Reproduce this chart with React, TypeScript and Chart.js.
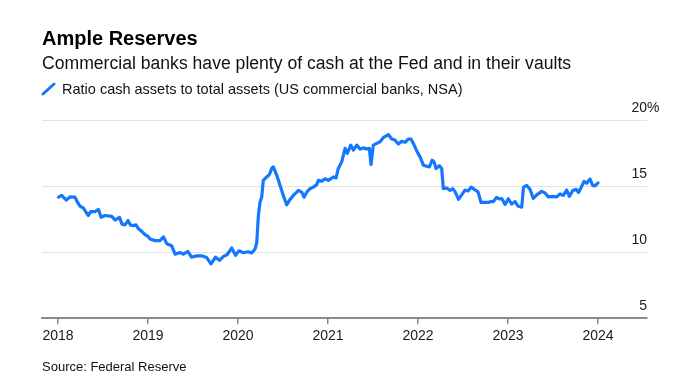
import React, { useEffect, useRef } from "react";
import { Chart, registerables } from "chart.js";

Chart.register(...registerables);

// Weekly ratio readings (decimal year, percent)
const dates = [
  2018.006, 2018.041, 2018.092, 2018.133, 2018.189, 2018.217, 2018.244, 2018.281, 2018.311, 2018.337,
  2018.363, 2018.411, 2018.45, 2018.478, 2018.522, 2018.597, 2018.633, 2018.683, 2018.711, 2018.744,
  2018.778, 2018.806, 2018.837, 2018.867, 2018.892, 2018.93, 2018.967, 2019.003, 2019.022, 2019.078,
  2019.133, 2019.172, 2019.208, 2019.263, 2019.3, 2019.356, 2019.392, 2019.444, 2019.483, 2019.541,
  2019.597, 2019.652, 2019.7, 2019.75, 2019.794, 2019.839, 2019.878, 2019.93, 2019.972, 2020.011,
  2020.059, 2020.114, 2020.152, 2020.189, 2020.208, 2020.226, 2020.244, 2020.263, 2020.281, 2020.319,
  2020.348, 2020.374, 2020.392, 2020.43, 2020.467, 2020.503, 2020.541, 2020.578, 2020.614, 2020.652,
  2020.67, 2020.708, 2020.733, 2020.763, 2020.8, 2020.837, 2020.874, 2020.892, 2020.93, 2020.967,
  2021.003, 2021.059, 2021.089, 2021.114, 2021.152, 2021.189, 2021.214, 2021.252, 2021.281, 2021.319,
  2021.356, 2021.392, 2021.43, 2021.459, 2021.478, 2021.503, 2021.541, 2021.578, 2021.614, 2021.67,
  2021.708, 2021.744, 2021.781, 2021.819, 2021.856, 2021.892, 2021.922, 2021.948, 2021.986, 2022.022,
  2022.059, 2022.097, 2022.126, 2022.158, 2022.178, 2022.2, 2022.237, 2022.263, 2022.281, 2022.319,
  2022.356, 2022.386, 2022.411, 2022.45, 2022.489, 2022.522, 2022.556, 2022.591, 2022.633, 2022.667,
  2022.7, 2022.744, 2022.781, 2022.808, 2022.837, 2022.872, 2022.903, 2022.93, 2022.967, 2023.003,
  2023.041, 2023.078, 2023.111, 2023.152, 2023.172, 2023.208, 2023.244, 2023.281, 2023.319, 2023.374,
  2023.411, 2023.448, 2023.503, 2023.541, 2023.578, 2023.614, 2023.652, 2023.681, 2023.719, 2023.756,
  2023.783, 2023.819, 2023.844, 2023.874, 2023.911, 2023.941, 2023.967, 2024.0,
];

const ratio = [
  14.16, 14.29, 13.94, 14.18, 14.16, 13.76, 13.48, 13.34, 13.02, 12.77,
  13.07, 13.07, 13.23, 12.64, 12.77, 12.71, 12.43, 12.63, 12.12, 12.06,
  12.39, 12.04, 12.01, 12.06, 11.78, 11.57, 11.32, 11.17, 10.99, 10.87,
  10.87, 11.15, 10.64, 10.48, 9.85, 9.97, 9.85, 10.05, 9.62, 9.72,
  9.72, 9.59, 9.11, 9.62, 9.38, 9.68, 9.8, 10.31, 9.76, 10.1,
  9.95, 10.03, 9.93, 10.23, 10.73, 12.77, 13.78, 14.16, 15.43, 15.69,
  15.87, 16.33, 16.45, 15.81, 15.05, 14.29, 13.58, 13.99, 14.29, 14.54,
  14.67, 14.54, 14.16, 14.54, 14.8, 14.92, 15.11, 15.43, 15.36, 15.56,
  15.43, 15.69, 15.61, 16.33, 16.83, 17.85, 17.47, 18.1, 17.72, 18.1,
  17.8, 17.89, 17.8, 17.85, 16.63, 18.1, 18.23, 18.35, 18.66, 18.9,
  18.56, 18.48, 18.18, 18.39, 18.31, 18.56, 18.56, 18.23, 17.66, 17.21,
  16.58, 16.5, 16.45, 16.96, 16.83, 16.33, 16.54, 16.33, 14.8, 14.85,
  14.67, 14.8, 14.58, 13.99, 14.37, 14.7, 14.63, 14.92, 14.71, 14.56,
  13.76, 13.76, 13.76, 13.83, 13.83, 14.14, 14.03, 14.06, 13.61, 14.04,
  13.64, 13.83, 13.49, 13.4, 14.92, 15.05, 14.75, 14.06, 14.33, 14.6,
  14.48, 14.18, 14.22, 14.18, 14.41, 14.29, 14.7, 14.22, 14.67, 14.75,
  14.52, 14.98, 15.36, 15.21, 15.53, 15.05, 15.02, 15.24,
];

const yearTicks = [2018, 2019, 2020, 2021, 2022, 2023, 2024];
const yTicks = [5, 10, 15, 20];

const FONT = '"Liberation Sans", Arial, Helvetica, sans-serif';
const BLUE = "#1478ff";

const yLabelPlugin = {
  id: "yLabels",
  afterDraw(chart: any) {
    const ys = chart.scales.y;
    const ctx = chart.ctx;
    const right = chart.chartArea.right;
    ctx.save();
    ctx.font = `14px ${FONT}`;
    ctx.fillStyle = "#1a1a1a";
    ctx.textBaseline = "alphabetic";
    yTicks.forEach((v, i) => {
      const py = ys.getPixelForValue(v) - 8.5;
      ctx.textAlign = "right";
      ctx.fillText(String(v), right, py);
      if (i === yTicks.length - 1) {
        ctx.textAlign = "left";
        ctx.fillText("%", right, py);
      }
    });
    ctx.restore();
  },
};

export default function App() {
  const ref = useRef<HTMLCanvasElement | null>(null);

  useEffect(() => {
    if (!ref.current) return;
    const chart = new Chart(ref.current, {
      type: "line",
      data: {
        datasets: [
          {
            label: "Ratio cash assets to total assets (US commercial banks, NSA)",
            data: dates.map((d, i) => ({ x: d, y: ratio[i] })),
            borderColor: BLUE,
            borderWidth: 3.2,
            pointRadius: 0,
            tension: 0,
            borderJoinStyle: "round",
            borderCapStyle: "round",
            fill: false,
          },
        ],
      },
      options: {
        responsive: false,
        animation: false,
        layout: { padding: { left: 42, right: 32, top: 120, bottom: 38 } },
        plugins: {
          legend: { display: false },
          tooltip: { enabled: false },
          title: { display: false },
        },
        scales: {
          x: {
            type: "linear",
            min: 2017.822,
            max: 2024.544,
            afterBuildTicks: (scale: any) => {
              scale.ticks = yearTicks.map((v) => ({ value: v }));
            },
            ticks: {
              callback: (v: any) => String(v),
              font: { family: FONT, size: 14 },
              color: "#1a1a1a",
              padding: 4,
              maxRotation: 0,
              autoSkip: false,
            },
            grid: {
              drawOnChartArea: false,
              drawTicks: true,
              tickLength: 6,
              color: "#8a8a8a",
              lineWidth: 1.5,
            },
            border: { display: true, color: "#8a8a8a", width: 2 },
          },
          y: {
            type: "linear",
            position: "right",
            min: 5,
            max: 20,
            afterBuildTicks: (scale: any) => {
              scale.ticks = yTicks.map((v) => ({ value: v }));
            },
            ticks: { display: false },
            grid: {
              drawTicks: false,
              color: (c: any) => (c.tick && c.tick.value === 5 ? "rgba(0,0,0,0)" : "#e3e3e3"),
              lineWidth: 1,
            },
            border: { display: false },
          },
        },
      },
      plugins: [yLabelPlugin],
    });
    return () => chart.destroy();
  }, []);

  return (
    <div
      style={{
        position: "absolute",
        left: 0,
        top: 0,
        width: 679,
        height: 387,
        overflow: "hidden",
        background: "#ffffff",
        fontFamily: FONT,
        color: "#111",
      }}
    >
      <canvas
        ref={ref}
        width={679}
        height={387}
        style={{ position: "absolute", left: 0, top: 0, width: 679, height: 387 }}
      />
      <div
        style={{
          position: "absolute",
          left: 42,
          top: 28,
          fontSize: 20,
          lineHeight: "20px",
          fontWeight: "bold",
          whiteSpace: "nowrap",
          color: "#000",
        }}
      >
        Ample Reserves
      </div>
      <div
        style={{
          position: "absolute",
          left: 42,
          top: 55,
          fontSize: 17.6,
          lineHeight: "17.6px",
          whiteSpace: "nowrap",
          color: "#111",
        }}
      >
        Commercial banks have plenty of cash at the Fed and in their vaults
      </div>
      <svg
        width={16}
        height={14}
        style={{ position: "absolute", left: 41, top: 82 }}
      >
        <line x1={2} y1={12} x2={13} y2={2} stroke={BLUE} strokeWidth={3} strokeLinecap="round" />
      </svg>
      <div
        style={{
          position: "absolute",
          left: 62,
          top: 81.5,
          fontSize: 14.5,
          lineHeight: "14.5px",
          whiteSpace: "nowrap",
          color: "#111",
        }}
      >
        Ratio cash assets to total assets (US commercial banks, NSA)
      </div>
      <div
        style={{
          position: "absolute",
          left: 42,
          top: 360,
          fontSize: 13,
          lineHeight: "13px",
          whiteSpace: "nowrap",
          color: "#111",
        }}
      >
        Source: Federal Reserve
      </div>
    </div>
  );
}
